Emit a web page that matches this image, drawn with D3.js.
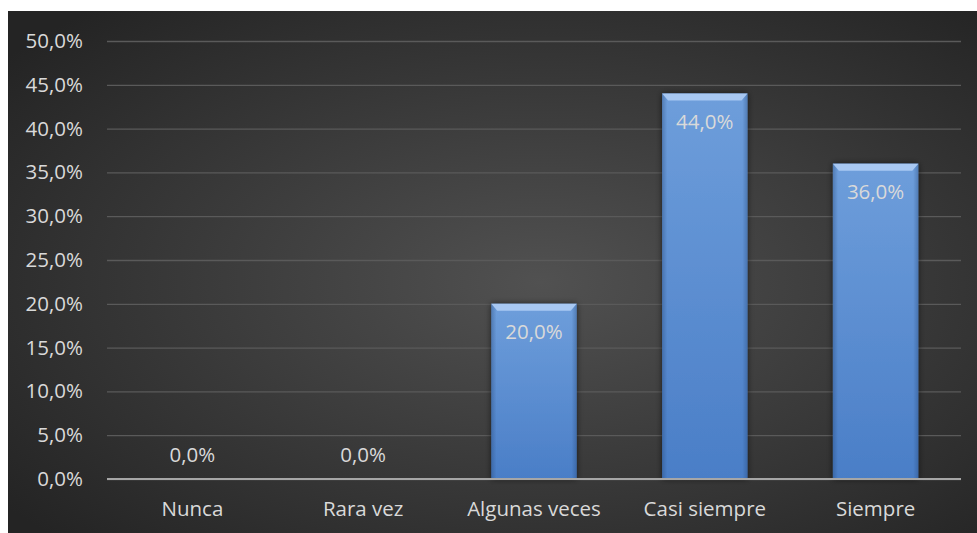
<!DOCTYPE html>
<meta charset="utf-8">
<style>
body { margin: 0; background: #fff; }
text { font-family: "Open Sans", sans-serif; }
</style>
<body>
<script src="https://d3js.org/d3.v7.min.js"></script>
<script>

// chart data
var categories = ["Nunca", "Rara vez", "Algunas veces", "Casi siempre", "Siempre"];
var values = [0, 0, 20, 44, 36];
var yTicks = [0, 5, 10, 15, 20, 25, 30, 35, 40, 45, 50];

var fmt = function(d) { return d.toFixed(1).replace(".", ",") + "%"; };

var W = 977, H = 533;
var margin = {top: 41, right: 16, bottom: 54, left: 107},
    width = W - margin.left - margin.right,
    height = H - margin.top - margin.bottom;

var root = d3.select("body").append("svg")
    .attr("width", W)
    .attr("height", H);

var defs = root.append("defs");

// dark radial background like the Excel style
var bg = defs.append("radialGradient").attr("id", "bg")
    .attr("cx", "55%").attr("cy", "52%").attr("r", "70%");
bg.append("stop").attr("offset", "0%").attr("stop-color", "#515151");
bg.append("stop").attr("offset", "100%").attr("stop-color", "#242424");

var barGrad = defs.append("linearGradient").attr("id", "barGrad")
    .attr("x1", 0).attr("y1", 0).attr("x2", 0).attr("y2", 1);
barGrad.append("stop").attr("offset", "0%").attr("stop-color", "#6e9edb");
barGrad.append("stop").attr("offset", "100%").attr("stop-color", "#4a7ec7");

var sideGrad = defs.append("linearGradient").attr("id", "sideGrad")
    .attr("x1", 0).attr("y1", 0).attr("x2", 1).attr("y2", 0);
sideGrad.append("stop").attr("offset", "0%").attr("stop-color", "#1f3f6e").attr("stop-opacity", 0.35);
sideGrad.append("stop").attr("offset", "6%").attr("stop-color", "#1f3f6e").attr("stop-opacity", 0);
sideGrad.append("stop").attr("offset", "94%").attr("stop-color", "#1f3f6e").attr("stop-opacity", 0);
sideGrad.append("stop").attr("offset", "100%").attr("stop-color", "#1f3f6e").attr("stop-opacity", 0.35);

var shadow = defs.append("filter").attr("id", "shadow")
    .attr("x", "-20%").attr("y", "-10%").attr("width", "140%").attr("height", "120%");
shadow.append("feDropShadow").attr("dx", 0).attr("dy", 0)
    .attr("stdDeviation", 3).attr("flood-color", "#000").attr("flood-opacity", 0.6);

root.append("rect")
    .attr("x", 8).attr("y", 11)
    .attr("width", W - 8).attr("height", H - 11)
    .attr("fill", "url(#bg)");

var svg = root.append("g")
    .attr("transform", "translate(" + margin.left + "," + margin.top + ")");

var x = d3.scaleBand().domain(categories).range([0, width]).paddingInner(0.5).paddingOuter(0.25);
var y = d3.scaleLinear().domain([0, 50]).range([height, 0]);

// y axis with gridlines
var yAxis = svg.append("g")
    .call(d3.axisLeft(y).tickValues(yTicks).tickFormat(fmt).tickSize(-width).tickPadding(24));
yAxis.select(".domain").remove();
yAxis.selectAll("line").attr("stroke", "#5a5a5a").attr("stroke-width", 1.3);
yAxis.selectAll("text").attr("fill", "#d9d9d9").style("font-size", "20.5px");

// bars
var bars = svg.selectAll(".bar").data(values.map(function(v, i) { return {c: categories[i], v: v}; }))
  .enter().append("g").attr("class", "bar")
    .filter(function(d) { return d.v > 0; });

bars.append("rect")
    .attr("x", function(d) { return x(d.c); })
    .attr("y", function(d) { return y(d.v); })
    .attr("width", x.bandwidth())
    .attr("height", function(d) { return height - y(d.v); })
    .attr("fill", "url(#barGrad)")
    .attr("filter", "url(#shadow)");

bars.append("rect")
    .attr("x", function(d) { return x(d.c); })
    .attr("y", function(d) { return y(d.v); })
    .attr("width", x.bandwidth())
    .attr("height", function(d) { return height - y(d.v); })
    .attr("fill", "url(#sideGrad)");

// bevel on top of each bar
bars.append("polygon")
    .attr("points", function(d) {
      var x0 = x(d.c), x1 = x0 + x.bandwidth(), t = y(d.v);
      return [[x0, t], [x1, t], [x1 - 6, t + 7], [x0 + 6, t + 7]].join(" ");
    })
    .attr("fill", "#a8c8f2");

// zero line
svg.append("line")
    .attr("x1", 0).attr("x2", width)
    .attr("y1", y(0)).attr("y2", y(0))
    .attr("stroke", "#a6a6a6").attr("stroke-width", 2.2);

// x axis labels
var xAxis = svg.append("g")
    .attr("transform", "translate(0," + height + ")")
    .call(d3.axisBottom(x).tickSize(0).tickPadding(22));
xAxis.select(".domain").remove();
xAxis.selectAll("text").attr("fill", "#d9d9d9").style("font-size", "20.5px");

// value labels
svg.selectAll(".lbl").data(values)
  .enter().append("text")
    .attr("class", "lbl")
    .attr("x", function(d, i) { return x(categories[i]) + x.bandwidth() / 2; })
    .attr("y", function(d) { return d > 0 ? y(d) + 35 : y(0) - 17; })
    .attr("text-anchor", "middle")
    .attr("fill", "#d9d9d9")
    .style("font-size", "20.5px")
    .text(fmt);

</script>
</body>
